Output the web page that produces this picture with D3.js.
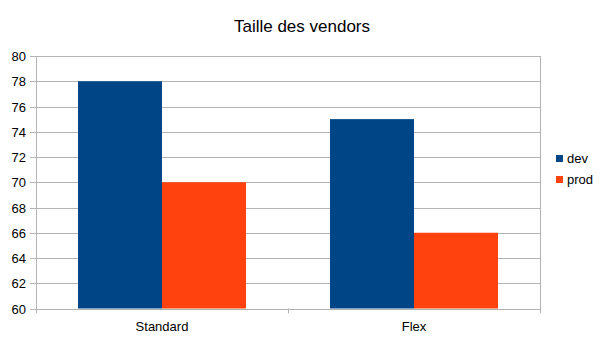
<!DOCTYPE html>
<html>
<head>
<meta charset="UTF-8">
<script src="https://d3js.org/d3.v7.min.js"></script>
<style>
  body { margin: 0; background: #fff; }
  svg { display: block; font-family: "Liberation Sans", Arial, sans-serif; }
</style>
</head>
<body>
<svg width="605" height="340"></svg>
<script>
const categories = ["Standard", "Flex"];
const seriesNames = ["dev", "prod"];
const dev = [78, 75];
const prod = [70, 66];
const colors = ["#004586", "#ff420e"];
const yTicks = [60, 62, 64, 66, 68, 70, 72, 74, 76, 78, 80];

const svg = d3.select("svg");
const plotLeft = 36, plotRight = 540, plotTop = 56, plotBottom = 308.5;

const x = d3.scaleBand().domain(categories).range([plotLeft, plotRight]);
const xs = d3.scaleBand().domain(seriesNames).range([0, x.bandwidth()]).paddingOuter(0.5);
const y = d3.scaleLinear().domain([60, 80]).range([plotBottom, plotTop]);

// title
svg.append("text").attr("x", 302).attr("y", 32).attr("text-anchor", "middle")
  .attr("font-size", 17).attr("fill", "#000").text("Taille des vendors");

// gridlines
svg.append("g").selectAll("line").data(yTicks).join("line")
  .attr("x1", plotLeft - 6).attr("x2", plotRight)
  .attr("y1", d => Math.round(y(d)) + 0.5).attr("y2", d => Math.round(y(d)) + 0.5)
  .attr("stroke", "#b3b3b3").attr("stroke-width", 1);

// y labels
svg.append("g").selectAll("text").data(yTicks).join("text")
  .attr("x", 26).attr("y", d => y(d) + 5).attr("text-anchor", "end")
  .attr("font-size", 13).attr("fill", "#000").text(d => d);

// bars
const data = categories.map((c, i) => ({ c, vals: [dev[i], prod[i]] }));
const g = svg.append("g").selectAll("g").data(data).join("g")
  .attr("transform", d => `translate(${x(d.c)},0)`);
g.selectAll("rect").data(d => d.vals.map((v, j) => ({ s: seriesNames[j], v, j })))
  .join("rect")
  .attr("x", d => xs(d.s)).attr("width", xs.bandwidth())
  .attr("y", d => y(d.v)).attr("height", d => y(60) - y(d.v))
  .attr("fill", d => colors[d.j]);

// axes lines
svg.append("line").attr("x1", plotLeft + 0.5).attr("x2", plotLeft + 0.5).attr("y1", plotTop).attr("y2", plotBottom + 5)
  .attr("stroke", "#b3b3b3");
svg.append("line").attr("x1", plotRight + 0.5).attr("x2", plotRight + 0.5).attr("y1", plotTop).attr("y2", plotBottom + 5)
  .attr("stroke", "#b3b3b3");
svg.append("line").attr("x1", x(categories[1]) + 0.5).attr("x2", x(categories[1]) + 0.5)
  .attr("y1", plotBottom).attr("y2", plotBottom + 5).attr("stroke", "#b3b3b3");
svg.append("line").attr("x1", plotLeft).attr("x2", plotRight).attr("y1", Math.round(plotBottom) + 0.5).attr("y2", Math.round(plotBottom) + 0.5)
  .attr("stroke", "#b3b3b3");

// x labels
svg.append("g").selectAll("text").data(categories).join("text")
  .attr("x", d => x(d) + x.bandwidth() / 2).attr("y", 331).attr("text-anchor", "middle")
  .attr("font-size", 13).attr("fill", "#000").text(d => d);

// legend
const lg = svg.append("g").selectAll("g").data(seriesNames).join("g")
  .attr("transform", (d, i) => `translate(556,${155 + i * 21})`);
lg.append("rect").attr("width", 7).attr("height", 7).attr("fill", (d, i) => colors[i]);
lg.append("text").attr("x", 11).attr("y", 8).attr("font-size", 13).attr("fill", "#000").text(d => d);
</script>
</body>
</html>
